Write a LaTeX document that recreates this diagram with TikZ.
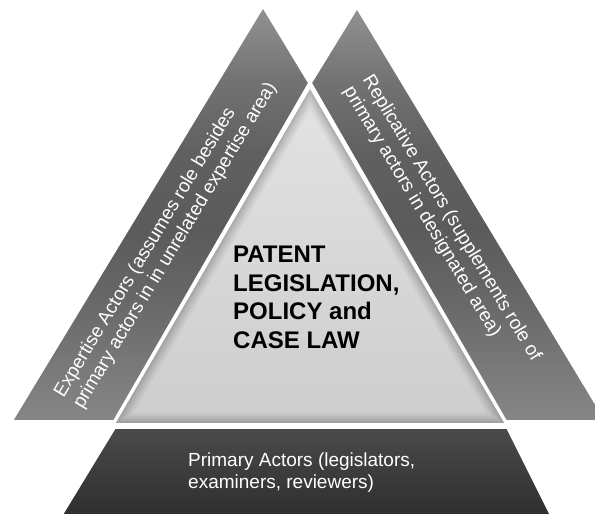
\documentclass[tikz,border=0pt]{standalone}
\usepackage{fontspec}
\setmainfont{Liberation Sans}

% greys of the two slanted side bands, top to bottom
\definecolor{sdA}{HTML}{929292}
\definecolor{sdB}{HTML}{727272}
\definecolor{sdC}{HTML}{606060}
\definecolor{sdD}{HTML}{5B5B5B}
\definecolor{sdE}{HTML}{686868}
\definecolor{sdF}{HTML}{7C7C7C}
\definecolor{sdG}{HTML}{868686}
\definecolor{coreTop}{HTML}{E3E3E3}
\definecolor{coreBot}{HTML}{CDCDCD}
\definecolor{baseTop}{HTML}{4A4A4A}
\definecolor{baseBot}{HTML}{2D2D2D}

% vertical shading for the side bands (25bp = bottom, 75bp = top of the path)
\pgfdeclareverticalshading{sidefill}{100bp}{%
  color(0bp)=(sdG); color(25bp)=(sdG); color(30bp)=(sdF); color(39.5bp)=(sdE);
  color(48bp)=(sdD); color(57.5bp)=(sdC); color(66bp)=(sdB); color(75bp)=(sdA);
  color(100bp)=(sdA)}

\tikzset{
  band/.style={shading=sidefill, draw=white, line width=1.8pt, line join=miter},
  core/.style={top color=coreTop, bottom color=coreBot, draw=white, line width=1.8pt},
  basepart/.style={top color=baseTop, bottom color=baseBot, draw=white, line width=1.5pt},
  sidetext/.style={text=white, align=left, inner sep=0pt,
    font=\fontsize{19}{22}\selectfont},
  basetext/.style={text=white, align=left, inner sep=0pt, anchor=base west,
    font=\fontsize{19}{21.5}\selectfont},
  coretext/.style={text=black, align=left, inner sep=0pt, anchor=base west,
    font=\fontsize{24}{28.4}\selectfont\bfseries},
}

\begin{document}
\begin{tikzpicture}[x=1pt,y=-1pt]
\useasboundingbox (0,0) rectangle (595,514);
\clip (0,0) rectangle (595,514);
\fill[white] (0,0) rectangle (595,514);

% corner points of the pieces
\coordinate (L1) at (12,421);
\coordinate (L2) at (263,7);
\coordinate (L3) at (309,83);
\coordinate (L4) at (114,421);
\coordinate (R1) at (606,421);
\coordinate (R2) at (357,8);
\coordinate (R3) at (311,83);
\coordinate (R4) at (506,421);
\coordinate (T1) at (310,87);
\coordinate (T2) at (506,424);
\coordinate (T3) at (114,424);
\coordinate (B1) at (115,428);
\coordinate (B2) at (507,428);
\coordinate (B3) at (553,520);
\coordinate (B4) at (59,520);

% base: primary actors
\shade[basepart] (B1) -- (B2) -- (B3) -- (B4) -- cycle;

% centre triangle with a soft inner shadow
\shade[core] (T1) -- (T2) -- (T3) -- cycle;
\begin{scope}
  \clip (T1) -- (T2) -- (T3) -- cycle;
  \foreach \w in {22,17,13,9,6,3}{
    \draw[black, opacity=0.045, line width=\w pt, line join=miter]
      (T1) -- (T2) -- (T3) -- cycle;
  }
\end{scope}
\draw[white, line width=1.8pt, line join=miter] (T1) -- (T2) -- (T3) -- cycle;

% left and right slanted bands
\shade[band] (L1) -- (L2) -- (L3) -- (L4) -- cycle;
\shade[band] (R2) -- (R1) -- (R4) -- (R3) -- cycle;

% labels (base anchors sit on the last line's baseline)
\node[sidetext, rotate=59] (expertise) at (166,240)
  {Expertise Actors (assumes role besides\\primary actors in in unrelated expertise area)};
\node[sidetext, rotate=-59] (replicative) at (442,224)
  {Replicative Actors (supplements role of\\primary actors in designated area)};
\node[coretext] (law) at (233,348)
  {PATENT\\LEGISLATION,\\POLICY and\\CASE LAW};
\node[basetext] (primary) at (188,488)
  {Primary Actors (legislators,\\examiners, reviewers)};
\end{tikzpicture}
\end{document}
